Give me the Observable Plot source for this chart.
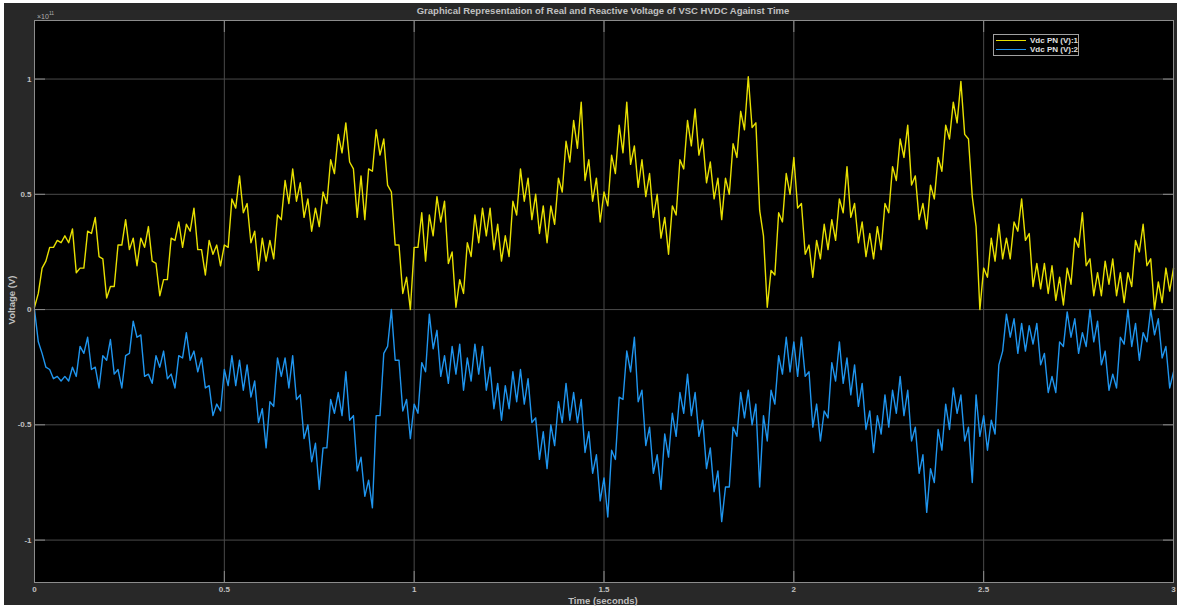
<!DOCTYPE html>
<html><head><meta charset="utf-8">
<script src="https://cdn.jsdelivr.net/npm/d3@7"></script>
<script src="https://cdn.jsdelivr.net/npm/@observablehq/plot@0.6"></script>
<style>
html,body{margin:0;padding:0;background:#fff;width:1177px;height:610px;overflow:hidden;font-family:"Liberation Sans",Arial,sans-serif;}
#fig{position:absolute;left:4px;top:3px;width:1173px;height:602px;background:#282828;}
#chart{position:absolute;left:0;top:0;}
.t{position:absolute;color:#c0c0c0;font-weight:bold;white-space:nowrap;line-height:1;}
#legend{position:absolute;left:993px;top:34px;width:86px;height:22px;border:1px solid #a0a0a0;background:#000;box-sizing:border-box;}
.row{position:absolute;left:2px;height:8px;font-size:8px;font-weight:bold;color:#e0e0e0;white-space:nowrap;line-height:8px;}
.sw{display:inline-block;width:30px;height:1px;vertical-align:middle;margin-right:4px;}
</style></head><body>
<div id="fig"></div>
<div id="chart"></div>
<div class="t" style="left:603px;top:6px;font-size:9.5px;transform:translateX(-50%)">Graphical Representation of Real and Reactive Voltage of VSC HVDC Against Time</div>
<div class="t" style="left:37px;top:11px;font-size:7px;font-weight:normal;color:#b0b0b0">×10<sup style="font-size:5px;vertical-align:4px">11</sup></div>
<div class="t" style="left:603px;top:596px;font-size:9.5px;transform:translateX(-50%)">Time (seconds)</div>
<div class="t" style="left:12px;top:300px;font-size:9.5px;transform:translate(-50%,-50%) rotate(-90deg)">Voltage (V)</div>
<div id="legend">
  <div class="row" style="top:2px"><span class="sw" style="background:#e8e000"></span>Vdc PN (V):1</div>
  <div class="row" style="top:11px"><span class="sw" style="background:#1f95ee"></span>Vdc PN (V):2</div>
</div>
<script>
// sample times (s), one sample every 0.01 s from 0 to 3
const times = d3.range(0, 301).map(i => i / 100);
const seriesNames = ["Vdc PN (V):1", "Vdc PN (V):2"];
const xTicks = [0, 0.5, 1, 1.5, 2, 2.5, 3];
const yTicks = [-1, -0.5, 0, 0.5, 1];
// values in units of 1e9 V
const vdc1 = [
1,7,18,21,27,27,30,29,32,29,
35,16,18,18,34,33,40,23,22,5,
10,10,28,28,39,26,31,19,31,27,
36,21,20,6,13,13,31,30,38,27,
37,34,44,26,26,15,30,24,28,19,
28,27,48,44,58,42,46,29,34,17,
31,21,30,22,41,39,56,46,61,47,
55,40,48,34,44,36,51,46,65,59,
76,68,81,64,61,40,58,39,61,60,
78,67,74,54,51,28,28,7,14,0,
27,27,42,21,41,32,49,38,47,20,
25,1,13,7,29,23,41,29,44,32,
44,26,37,21,32,23,47,41,61,47,
57,39,50,33,45,29,45,37,57,51,
73,64,82,70,90,56,65,47,57,38,
51,45,67,59,80,68,90,63,71,53,
65,49,59,40,50,31,40,24,45,41,
65,61,82,71,87,67,74,55,64,48,
57,39,57,50,72,66,86,78,101,79,
81,43,32,1,17,15,42,38,59,50,
66,44,46,24,28,14,30,22,37,26,
39,30,48,42,62,40,46,29,38,23,
33,22,36,26,46,42,62,56,74,66,
80,54,58,39,46,35,54,48,66,60,
80,74,90,81,99,76,74,49,36,0,
18,14,31,21,37,22,31,22,38,34,
48,30,33,10,20,9,20,7,19,4,
14,2,18,11,31,27,42,19,22,6,
16,6,21,11,22,6,16,3,16,10,
30,25,37,19,22,0,12,3,18,8,
18];
const vdc2 = [
0,-14,-19,-25,-26,-30,-29,-31,-29,-31,
-25,-29,-16,-19,-12,-26,-25,-34,-20,-22,
-13,-28,-26,-34,-20,-19,-5,-12,-11,-29,
-28,-32,-20,-25,-18,-30,-28,-34,-20,-21,
-10,-22,-18,-27,-21,-34,-33,-46,-41,-44,
-26,-33,-20,-33,-22,-35,-24,-38,-31,-49,
-43,-60,-40,-42,-21,-29,-21,-34,-20,-39,
-37,-56,-50,-66,-58,-78,-60,-60,-39,-45,
-36,-46,-27,-48,-46,-70,-64,-81,-74,-86,
-46,-46,-19,-16,0,-22,-22,-44,-39,-56,
-41,-45,-23,-27,-2,-17,-9,-29,-20,-32,
-16,-28,-15,-35,-21,-31,-15,-28,-16,-35,
-25,-43,-32,-48,-33,-43,-27,-40,-26,-41,
-30,-49,-47,-65,-53,-69,-50,-59,-40,-49,
-32,-48,-36,-49,-39,-62,-53,-71,-63,-83,
-73,-90,-61,-65,-38,-39,-18,-27,-12,-40,
-35,-59,-51,-71,-63,-78,-54,-64,-45,-55,
-36,-45,-28,-46,-36,-55,-48,-69,-60,-79,
-70,-92,-77,-77,-51,-55,-36,-47,-35,-50,
-41,-77,-46,-57,-35,-41,-20,-28,-12,-27,
-14,-29,-12,-29,-27,-51,-41,-57,-44,-47,
-23,-31,-14,-32,-21,-37,-24,-42,-32,-52,
-44,-62,-46,-54,-37,-51,-35,-45,-29,-46,
-35,-57,-51,-71,-63,-88,-69,-75,-52,-61,
-41,-52,-34,-45,-37,-57,-51,-75,-37,-55,
-46,-61,-48,-54,-24,-18,-2,-12,-4,-19,
-6,-18,-7,-15,-6,-24,-19,-36,-29,-36,
-14,-16,-1,-12,-4,-19,-10,-16,0,-14,
-5,-24,-18,-35,-28,-34,-12,-15,0,-16,
-6,-22,-10,-14,0,-11,-4,-21,-16,-34,
-27];

const colors = ["#e8e000", "#1f95ee"];
const toRows = (vals, name) => vals.map((v, i) => ({t: times[i], v: v / 100, s: name}));
const rows1 = toRows(vdc1, seriesNames[0]);
const rows2 = toRows(vdc2, seriesNames[1]);
const axisCol = "#8c8c8c";
const fmt = d => String(d);

const plot = Plot.plot({
  width: 1177, height: 610,
  marginLeft: 34, marginRight: 4, marginTop: 20, marginBottom: 28,
  style: {background: "transparent", color: "#c0c0c0", fontFamily: "Liberation Sans, Arial, sans-serif", fontSize: "8px", fontWeight: "bold"},
  x: {domain: [0, 3]},
  y: {domain: [-1.184, 1.254]},
  marks: [
    Plot.frame({fill: "#000", stroke: "none"}),
    Plot.gridX(xTicks, {stroke: "#4a4a4a", strokeOpacity: 1, strokeWidth: 1}),
    Plot.gridY(yTicks, {stroke: "#4a4a4a", strokeOpacity: 1, strokeWidth: 1}),
    Plot.line(rows1, {x: "t", y: "v", stroke: colors[0], strokeWidth: 1.4}),
    Plot.line(rows2, {x: "t", y: "v", stroke: colors[1], strokeWidth: 1.4}),
    Plot.frame({stroke: axisCol}),
    Plot.axisX(xTicks, {anchor: "bottom", tickSize: 0, tickPadding: 4, tickFormat: fmt, label: null}),
    Plot.axisX(xTicks, {anchor: "bottom", tickSize: -11, tickFormat: () => "", label: null, stroke: axisCol}),
    Plot.axisX(xTicks, {anchor: "top", tickSize: -11, tickFormat: () => "", label: null, stroke: axisCol}),
    Plot.axisY(yTicks, {anchor: "left", tickSize: 0, tickPadding: 3, tickFormat: fmt, label: null}),
    Plot.axisY(yTicks, {anchor: "left", tickSize: -11, tickFormat: () => "", label: null, stroke: axisCol}),
    Plot.axisY(yTicks, {anchor: "right", tickSize: -11, tickFormat: () => "", label: null, stroke: axisCol})
  ]
});
document.getElementById("chart").appendChild(plot);
</script>
</body></html>
